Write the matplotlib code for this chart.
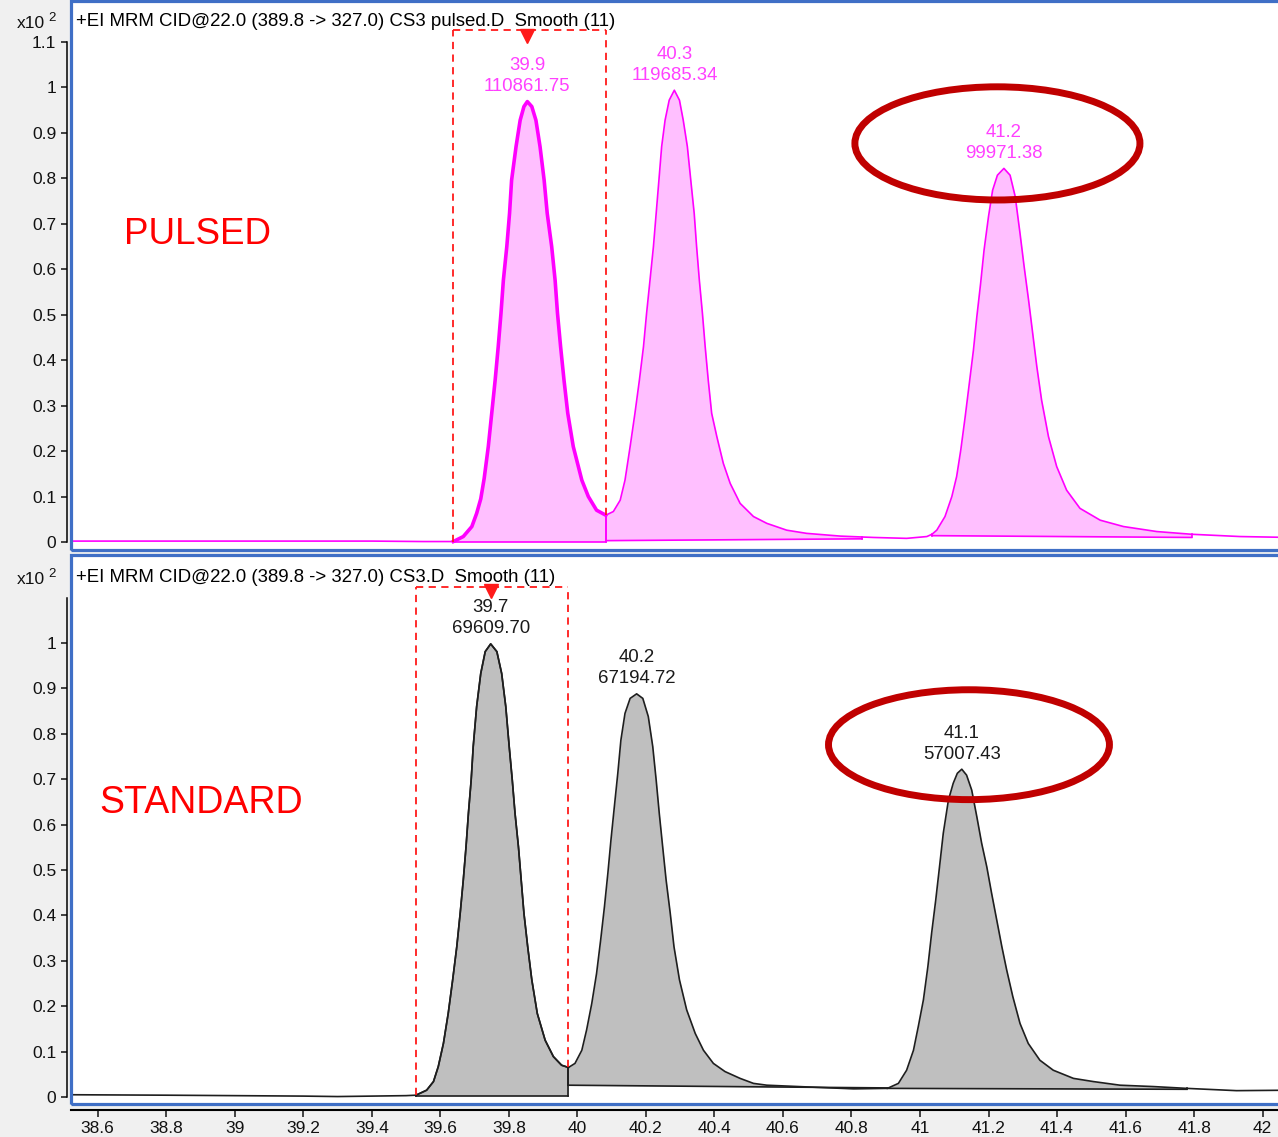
import numpy as np
import matplotlib
matplotlib.use('Agg')
import matplotlib.pyplot as plt
from matplotlib.patches import Ellipse, Rectangle

plt.rcParams['font.family'] = ['Liberation Sans', 'DejaVu Sans']

# ---------------- data ----------------
pulsed_rt = [38.52, 38.8, 39.1, 39.4, 39.55, 39.638, 39.667, 39.692, 39.706, 39.718,
             39.728, 39.740, 39.750, 39.760, 39.769, 39.777, 39.784, 39.794, 39.802, 39.808,
             39.821, 39.833, 39.844, 39.854, 39.867, 39.879, 39.891, 39.903, 39.912, 39.925,
             39.935, 39.942, 39.951, 39.961, 39.972, 39.988, 40.013, 40.032, 40.056, 40.083,
             40.105, 40.125, 40.139, 40.154, 40.168, 40.181, 40.193, 40.202, 40.212, 40.222,
             40.230, 40.238, 40.246, 40.256, 40.268, 40.283, 40.298, 40.309, 40.321, 40.331,
             40.341, 40.348, 40.356, 40.365, 40.373, 40.382, 40.392, 40.407, 40.426, 40.446,
             40.475, 40.514, 40.553, 40.611, 40.669, 40.767, 40.831, 40.864, 40.961, 41.020,
             41.035, 41.049, 41.073, 41.093, 41.107, 41.119, 41.132, 41.144, 41.156, 41.166,
             41.177, 41.187, 41.200, 41.212, 41.226, 41.245, 41.263, 41.278, 41.292, 41.304,
             41.317, 41.329, 41.341, 41.355, 41.375, 41.399, 41.428, 41.467, 41.526, 41.594,
             41.691, 41.793, 41.934, 42.08]
pulsed_int = [0.002, 0.002, 0.002, 0.002, 0.001, 0.001, 0.012, 0.034, 0.063, 0.095,
              0.140, 0.210, 0.283, 0.356, 0.430, 0.503, 0.576, 0.650, 0.723, 0.796,
              0.870, 0.928, 0.958, 0.969, 0.958, 0.928, 0.870, 0.796, 0.723, 0.650,
              0.576, 0.503, 0.430, 0.356, 0.283, 0.210, 0.136, 0.100, 0.070, 0.059,
              0.067, 0.092, 0.136, 0.210, 0.283, 0.356, 0.430, 0.503, 0.576, 0.650,
              0.723, 0.796, 0.870, 0.928, 0.972, 0.994, 0.972, 0.928, 0.870, 0.796,
              0.723, 0.650, 0.576, 0.503, 0.430, 0.356, 0.283, 0.232, 0.173, 0.129,
              0.085, 0.056, 0.041, 0.026, 0.019, 0.013, 0.011, 0.010, 0.008, 0.012,
              0.017, 0.026, 0.056, 0.100, 0.144, 0.202, 0.276, 0.349, 0.422, 0.496,
              0.569, 0.642, 0.716, 0.774, 0.807, 0.822, 0.807, 0.760, 0.679, 0.606,
              0.532, 0.459, 0.386, 0.312, 0.232, 0.166, 0.114, 0.074, 0.048, 0.034,
              0.023, 0.017, 0.012, 0.010]

standard_rt = [38.52, 38.8, 39.0, 39.2, 39.3, 39.4, 39.5, 39.529, 39.560, 39.580,
               39.594, 39.609, 39.623, 39.636, 39.648, 39.658, 39.667, 39.675, 39.682, 39.690,
               39.696, 39.706, 39.718, 39.731, 39.747, 39.765, 39.779, 39.791, 39.801, 39.810,
               39.818, 39.828, 39.836, 39.844, 39.855, 39.867, 39.883, 39.906, 39.930, 39.954,
               39.974, 39.993, 40.013, 40.027, 40.042, 40.056, 40.068, 40.079, 40.089, 40.098,
               40.108, 40.118, 40.127, 40.139, 40.154, 40.173, 40.191, 40.207, 40.220, 40.230,
               40.239, 40.249, 40.259, 40.271, 40.282, 40.298, 40.319, 40.344, 40.368, 40.397,
               40.431, 40.475, 40.514, 40.553, 40.708, 40.806, 40.905, 40.937, 40.961, 40.981,
               40.995, 41.010, 41.023, 41.034, 41.046, 41.057, 41.068, 41.083, 41.097, 41.109,
               41.122, 41.136, 41.151, 41.166, 41.180, 41.195, 41.209, 41.224, 41.239, 41.253,
               41.271, 41.292, 41.316, 41.350, 41.389, 41.448, 41.506, 41.584, 41.681, 41.779,
               41.924, 42.08]
standard_int = [0.005, 0.004, 0.003, 0.002, 0.001, 0.002, 0.003, 0.004, 0.015, 0.034,
                0.067, 0.118, 0.184, 0.258, 0.331, 0.405, 0.478, 0.551, 0.625, 0.698,
                0.772, 0.860, 0.933, 0.981, 0.998, 0.981, 0.933, 0.860, 0.772, 0.698,
                0.625, 0.551, 0.478, 0.405, 0.331, 0.258, 0.184, 0.125, 0.089, 0.070,
                0.065, 0.074, 0.103, 0.148, 0.206, 0.272, 0.346, 0.419, 0.493, 0.566,
                0.640, 0.713, 0.786, 0.845, 0.878, 0.888, 0.878, 0.838, 0.772, 0.698,
                0.625, 0.551, 0.478, 0.405, 0.331, 0.258, 0.192, 0.140, 0.103, 0.074,
                0.056, 0.041, 0.030, 0.026, 0.021, 0.018, 0.019, 0.030, 0.059, 0.103,
                0.155, 0.214, 0.287, 0.361, 0.434, 0.507, 0.581, 0.654, 0.691, 0.713,
                0.722, 0.709, 0.676, 0.617, 0.559, 0.507, 0.449, 0.390, 0.331, 0.280,
                0.221, 0.162, 0.118, 0.081, 0.059, 0.041, 0.034, 0.026, 0.023, 0.019,
                0.014, 0.015]

# integration windows and baselines
pulsed_int_start = [39.638, 40.083, 41.035]
pulsed_int_end = [40.083, 40.831, 41.793]
pulsed_base_start = [0.001, 0.003, 0.014]
pulsed_base_end = [0.001, 0.007, 0.010]

standard_int_start = [39.529, 39.974, 40.905]
standard_int_end = [39.974, 40.905, 41.779]
standard_base_start = [0.003, 0.026, 0.019]
standard_base_end = [0.003, 0.020, 0.017]

# peak labels
pulsed_rt_labels = ['39.9', '40.3', '41.2']
pulsed_area_labels = ['110861.75', '119685.34', '99971.38']
standard_rt_labels = ['39.7', '40.2', '41.1']
standard_area_labels = ['69609.70', '67194.72', '57007.43']

# axes ticks
x_ticks = [38.6, 38.8, 39.0, 39.2, 39.4, 39.6, 39.8, 40.0, 40.2, 40.4, 40.6, 40.8,
           41.0, 41.2, 41.4, 41.6, 41.8, 42.0]
x_tick_labels = ['38.6', '38.8', '39', '39.2', '39.4', '39.6', '39.8', '40', '40.2',
                 '40.4', '40.6', '40.8', '41', '41.2', '41.4', '41.6', '41.8', '42']
y_ticks_top = [0, 0.1, 0.2, 0.3, 0.4, 0.5, 0.6, 0.7, 0.8, 0.9, 1.0, 1.1]
y_tick_labels_top = ['0', '0.1', '0.2', '0.3', '0.4', '0.5', '0.6', '0.7', '0.8', '0.9', '1', '1.1']
y_ticks_bottom = [0, 0.1, 0.2, 0.3, 0.4, 0.5, 0.6, 0.7, 0.8, 0.9, 1.0]
y_tick_labels_bottom = ['0', '0.1', '0.2', '0.3', '0.4', '0.5', '0.6', '0.7', '0.8', '0.9', '1']

header_top = '+EI MRM CID@22.0 (389.8 -> 327.0) CS3 pulsed.D  Smooth (11)'
header_bottom = '+EI MRM CID@22.0 (389.8 -> 327.0) CS3.D  Smooth (11)'

# ---------------- layout ----------------
W, H = 1278, 1137
BG = '#f0f0f0'
FRAME = '#3f6fc6'
RED = '#ff1a1a'
ELL = '#c00000'
TICK_FS = 12.5
TXT_FS = 13.4

fig = plt.figure(figsize=(W / 100, H / 100), dpi=100, facecolor=BG)


def fx(px):
    return px / W


def fy(py):
    return 1 - py / H


XL = (38.522, 42.080)
ax1 = fig.add_axes([fx(71), fy(550), fx(1290) - fx(71), (550 - 1) / H])
ax2 = fig.add_axes([fx(71), fy(1104), fx(1290) - fx(71), (1104 - 555) / H])
ax1.set_xlim(*XL)
ax2.set_xlim(*XL)
ax1.set_ylim(-0.0176, 1.1903)
ax2.set_ylim(-0.0154, 1.1938)


def style(ax, yticks, ylabels, show_x):
    for s in ['top', 'right']:
        ax.spines[s].set_visible(False)
    ax.spines['left'].set_position(('outward', 3))
    ax.spines['left'].set_bounds(0, 1.1)
    ax.spines['left'].set_color('black')
    ax.spines['left'].set_linewidth(1.1)
    ax.set_yticks(yticks)
    ax.set_yticklabels(ylabels)
    ax.tick_params(axis='y', direction='out', length=4.5, width=1.1, pad=3,
                   labelsize=TICK_FS, colors='#111111')
    if show_x:
        ax.spines['bottom'].set_position(('outward', 4))
        ax.spines['bottom'].set_color('black')
        ax.spines['bottom'].set_linewidth(1.5)
        ax.set_xticks(x_ticks)
        ax.set_xticklabels(x_tick_labels)
        ax.tick_params(axis='x', direction='out', length=5, width=1.1, pad=3.5,
                       labelsize=TICK_FS, colors='#111111')
    else:
        ax.spines['bottom'].set_visible(False)
        ax.set_xticks([])
    ax.set_facecolor('white')
    ax.add_patch(Rectangle((0, 0), 1, 1, transform=ax.transAxes, fill=False,
                           ec=FRAME, lw=2.3, clip_on=False, zorder=20))


style(ax1, y_ticks_top, y_tick_labels_top, False)
style(ax2, y_ticks_bottom, y_tick_labels_bottom, True)


def draw_panel(ax, rt, inten, starts, ends, b0s, b1s, lc, fc, tc, sel_lw,
               rt_labels, area_labels, box_top, tri_y):
    rt = np.asarray(rt)
    inten = np.asarray(inten)
    apexes = []
    for i, (a, b, y0, y1) in enumerate(zip(starts, ends, b0s, b1s)):
        m = (rt >= a - 1e-9) & (rt <= b + 1e-9)
        base = np.interp(rt[m], [a, b], [y0, y1])
        ax.fill_between(rt[m], inten[m], base, color=fc, lw=0, zorder=1)
        ax.plot([a, b], [y0, y1], color=lc, lw=1.2, zorder=2)
        ya = np.interp(a, rt, inten)
        yb = np.interp(b, rt, inten)
        ax.plot([a, a], [y0, ya], color=lc, lw=1.2, zorder=2)
        ax.plot([b, b], [y1, yb], color=lc, lw=1.2, zorder=2)
        k = np.argmax(inten[m])
        apexes.append((rt[m][k], inten[m][k]))
        if i == 0:
            ax.plot(rt[m], inten[m], color=lc, lw=sel_lw, zorder=4,
                    solid_joinstyle='round')
    ax.plot(rt, inten, color=lc, lw=1.2, zorder=3, solid_joinstyle='round')
    for (t, y), rl, al in zip(apexes, rt_labels, area_labels):
        ax.annotate(al, xy=(t, y), xytext=(0, 15), textcoords='offset pixels',
                    ha='center', va='center', color=tc, fontsize=TXT_FS, zorder=6)
        ax.annotate(rl, xy=(t, y), xytext=(0, 36), textcoords='offset pixels',
                    ha='center', va='center', color=tc, fontsize=TXT_FS, zorder=6)
    # dashed selection box for the first peak
    a, b = starts[0], ends[0]
    ya = np.interp(a, rt, inten)
    yb = np.interp(b, rt, inten)
    dash = dict(color=RED, lw=1.3, dashes=(4, 3), zorder=5)
    ax.plot([a, a], [ya, box_top], **dash)
    ax.plot([b, b], [yb, box_top], **dash)
    ax.plot([a, b], [box_top, box_top], **dash)
    ax.plot([apexes[0][0]], [tri_y], marker='v', ms=10, color=RED, mec=RED, zorder=7)


draw_panel(ax1, pulsed_rt, pulsed_int, pulsed_int_start, pulsed_int_end,
           pulsed_base_start, pulsed_base_end, '#ff00ff', '#ffbfff', '#ff40ff', 2.6,
           pulsed_rt_labels, pulsed_area_labels, 1.127, 1.113)
draw_panel(ax2, standard_rt, standard_int, standard_int_start, standard_int_end,
           standard_base_start, standard_base_end, '#1e1e1e', '#bfbfbf', '#1a1a1a', 1.2,
           standard_rt_labels, standard_area_labels, 1.123, 1.115)

# highlight ellipses
ax1.add_patch(Ellipse((41.226, 0.877), 0.832, 0.249, fill=False, ec=ELL, lw=5, zorder=8))
ax2.add_patch(Ellipse((41.143, 0.776), 0.820, 0.242, fill=False, ec=ELL, lw=5, zorder=8))

# headers and scale labels
for py, txt in [(22, header_top), (578, header_bottom)]:
    fig.text(fx(76), fy(py), txt, ha='left', va='center', fontsize=TXT_FS,
             color='black', zorder=30)
    fig.text(fx(45), fy(py + 1), 'x10', ha='right', va='center', fontsize=TICK_FS,
             color='#111111')
    fig.text(fx(48), fy(py - 4), '2', ha='left', va='center', fontsize=9.5,
             color='#111111')

fig.text(fx(198), fy(234), 'PULSED', ha='center', va='center', fontsize=26.5, color='#ff0000')
fig.text(fx(201), fy(803), 'STANDARD', ha='center', va='center', fontsize=27, color='#ff0000')

fig.savefig('out.png', dpi=100, facecolor=BG)
